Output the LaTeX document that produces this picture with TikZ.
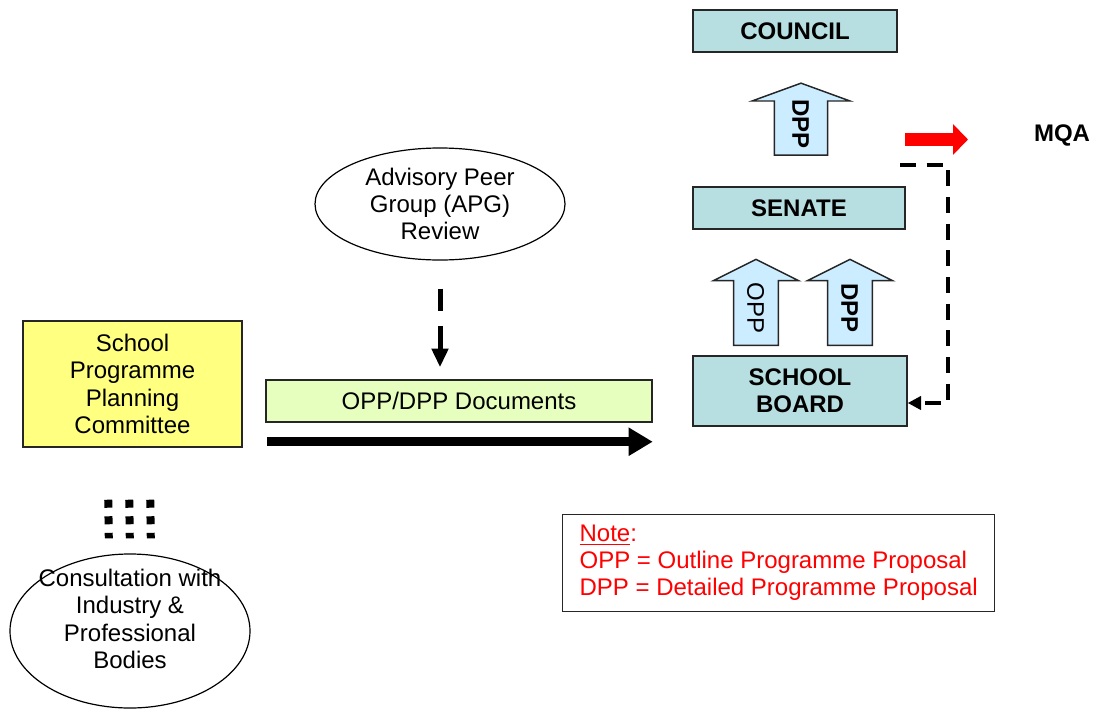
\documentclass[tikz,border=0pt]{standalone}
\usepackage{fontspec}
\setmainfont{Liberation Sans}
\usetikzlibrary{shapes.geometric,shapes.arrows,arrows.meta,positioning}
\definecolor{bodyteal}{RGB}{183,222,224}
\definecolor{arrowblue}{RGB}{204,236,255}
\definecolor{planyellow}{RGB}{255,255,128}
\definecolor{docgreen}{RGB}{230,255,190}

\begin{document}
\begin{tikzpicture}[x=0.75pt,y=-0.75pt,
	font=\fontsize{18}{20.5}\selectfont,
	body/.style={draw=black!85,line width=1.1pt,fill=bodyteal,font=\fontsize{18}{20.25}\selectfont\bfseries,align=center,inner sep=0pt,minimum height=31.5pt},
	oval/.style={draw,ellipse,line width=0.9pt,align=center,inner sep=0pt},
	uparrow/.style={single arrow,draw=black!85,line width=1.1pt,fill=arrowblue,rotate=-90,shape border rotate=180,inner xsep=0pt,inner ysep=0pt},
	bigarrow/.style={uparrow,minimum height=54pt,minimum width=73.5pt,single arrow head extend=16pt,single arrow tip angle=140,text height=24.8pt,text depth=11.9pt},
	smallarrow/.style={uparrow,minimum height=64.5pt,minimum width=63.75pt,single arrow head extend=14pt,single arrow tip angle=127,text height=21.6pt,text depth=8.7pt},
	sqdot/.style={line width=6pt,dash pattern=on 6pt off 6.4pt},
	fbdash/.style={line width=2.4pt,dash pattern=on 12pt off 8pt,-{Triangle[length=10pt,width=10pt]}},
	]
	\useasboundingbox (0,0) rectangle (1094,710);

	\node[body,minimum width=153pt] (council) at (795,31) {COUNCIL};
	\node[body,minimum width=159pt] (senate) at (799,208) {SENATE};
	\node[body,minimum width=160.5pt,minimum height=52.5pt] (board) at (800,391) {SCHOOL\\BOARD};

	\node[bigarrow,font=\fontsize{18}{20.5}\selectfont\bfseries] (dppup) at (801,124) {DPP};
	\node[smallarrow] (oppup) at (756,308) {OPP};
	\node[smallarrow,font=\fontsize{18}{20.5}\selectfont\bfseries] (dppmid) at (850,308) {DPP};

	\node[font=\fontsize{18}{20.5}\selectfont\bfseries] (mqa) at (1062,135) {MQA};
	\coordinate (redS) at (905,139.5);
	\coordinate (redE) at (968,139.5);
	\draw[red,line width=9.75pt,-{Triangle[length=11.25pt,width=22.5pt]}] (redS) -- (redE);

	\coordinate (fbS) at (900,165);
	\coordinate (fbC) at (948,165);
	\draw[fbdash] (fbS) -- (fbC) |- ([yshift=-9pt]board.east);

	\node[oval,minimum width=187.5pt,minimum height=84pt] (apg) at (440,204) {Advisory Peer\\Group (APG)\\Review};
	\node[draw=black!85,line width=1.1pt,fill=docgreen,minimum width=289.5pt,minimum height=31.5pt] (docs) at (459,401) {OPP/DPP Documents};
	\draw[line width=3.75pt,dash pattern=on 17pt off 11pt,-{Triangle[length=14pt,width=12pt]}] ([yshift=-21pt]apg.south) -- ([yshift=9pt]apg.south |- docs.north);
	\draw[line width=6.75pt,-{Triangle[length=18pt,width=20pt]}] ([yshift=-14.25pt,xshift=1.5pt]docs.south west) -- ([yshift=-14.25pt]docs.south east);

	\node[draw=black!85,line width=1.1pt,fill=planyellow,align=center,minimum width=164pt,minimum height=94.5pt,font=\fontsize{18}{20.6}\selectfont] (committee) at (132.5,384) {School\\Programme\\Planning\\Committee};
	\node[oval,minimum width=180pt,minimum height=115.5pt] (cons) at (130,631) {};
	\node[align=center] (constext) at (130,619) {Consultation with\\Industry \&\\Professional\\Bodies};
	\foreach \dx in {-21,0,21}
		\draw[sqdot,shorten <=39pt,shorten >=11.25pt] ([xshift=\dx*0.75pt-3pt]committee.south) -- ([xshift=\dx*0.75pt]cons.north);

	\node[draw=black!85,line width=1pt,anchor=north west,text=red,align=left,minimum width=324pt,inner xsep=8pt,minimum height=72.75pt,font=\fontsize{18}{20.25}\selectfont] (note) at (562,514) {\underline{Note}:\\OPP = Outline Programme Proposal\\DPP = Detailed Programme Proposal};
\end{tikzpicture}
\end{document}
